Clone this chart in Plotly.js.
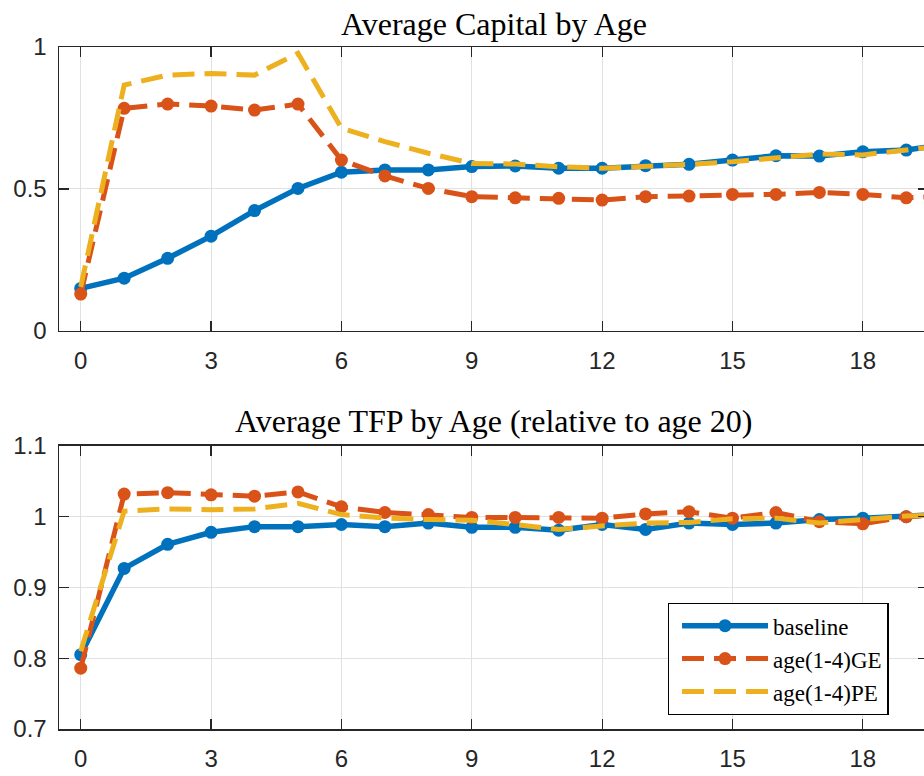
<!DOCTYPE html>
<html>
<head>
<meta charset="utf-8">
<script src="https://cdn.plot.ly/plotly-3.0.1.min.js"></script>
<style>
html, body { margin: 0; padding: 0; overflow: hidden; background: #fff; }
#chart { width: 932px; height: 776px; }
</style>
</head>
<body>
<div id="chart"></div>
<script>
// ---- data ----
const ages = [0,1,2,3,4,5,6,7,8,9,10,11,12,13,14,15,16,17,18,19,20];

const capBaseline = [0.150,0.186,0.256,0.334,0.424,0.502,0.559,0.567,0.567,0.579,0.581,0.573,0.573,0.582,0.587,0.602,0.617,0.616,0.631,0.637,0.660];
const capGE       = [0.130,0.784,0.799,0.792,0.778,0.799,0.602,0.546,0.502,0.473,0.469,0.467,0.461,0.473,0.475,0.481,0.481,0.488,0.481,0.469,0.475];
const capPE       = [0.155,0.866,0.901,0.907,0.901,0.978,0.714,0.667,0.626,0.590,0.588,0.578,0.573,0.578,0.587,0.596,0.608,0.623,0.620,0.637,0.655];

const tfpBaseline = [0.805,0.927,0.961,0.978,0.986,0.986,0.989,0.986,0.991,0.985,0.985,0.981,0.989,0.982,0.991,0.989,0.991,0.996,0.998,1.000,1.004];
const tfpGE       = [0.786,1.032,1.034,1.031,1.029,1.035,1.014,1.006,1.003,0.999,0.999,0.999,0.998,1.004,1.007,0.998,1.006,0.993,0.990,1.000,1.003];
const tfpPE       = [0.810,1.008,1.011,1.010,1.011,1.019,1.003,0.998,0.996,0.995,0.989,0.982,0.987,0.991,0.992,0.997,0.998,0.991,0.996,1.001,1.003];

const seriesNames = ['baseline', 'age(1-4)GE', 'age(1-4)PE'];
const xTicks = [0,3,6,9,12,15,18];
const capTicks = [0, 0.5, 1];
const capTickText = ['0', '0.5', '1'];
const tfpTicks = [0.7, 0.8, 0.9, 1.0, 1.1];
const tfpTickText = ['0.7', '0.8', '0.9', '1', '1.1'];
const titles = ['Average Capital by Age', 'Average TFP by Age (relative to age 20)'];

// ---- styles ----
const BLUE = '#0072BD', ORANGE = '#D95319', YELLOW = '#EDB120';
const DASH = '22px,10px';

function mk(y, xa, ya, idx, show) {
  const base = {x: ages, y: y, xaxis: xa, yaxis: ya, name: seriesNames[idx], showlegend: show, cliponaxis: true};
  if (idx === 0) return Object.assign(base, {mode: 'lines+markers', line: {color: BLUE, width: 5.5}, marker: {color: BLUE, size: 13}});
  if (idx === 1) return Object.assign(base, {mode: 'lines+markers', line: {color: ORANGE, width: 5, dash: DASH}, marker: {color: ORANGE, size: 13}});
  return Object.assign(base, {mode: 'lines', line: {color: YELLOW, width: 5, dash: DASH}});
}

const traces = [
  mk(capBaseline, 'x', 'y', 0, false),
  mk(capGE, 'x', 'y', 1, false),
  mk(capPE, 'x', 'y', 2, false),
  mk(tfpBaseline, 'x2', 'y2', 0, true),
  mk(tfpGE, 'x2', 'y2', 1, true),
  mk(tfpPE, 'x2', 'y2', 2, true)
];

const AXC = '#262626';
const tickFont = {family: 'Liberation Sans, Arial, sans-serif', size: 24, color: AXC};
function xAxis(anchor) {
  return {anchor: anchor, range: [-0.5, 19.5], tickvals: xTicks, ticks: 'inside', ticklen: 10, tickcolor: AXC, tickwidth: 1.2,
    showline: true, linecolor: AXC, linewidth: 1.5, mirror: 'ticks', showgrid: true, gridcolor: '#e1e1e1', gridwidth: 1,
    zeroline: false, tickfont: tickFont, ticklabelstandoff: 8, fixedrange: true};
}
function yAxis(anchor, domain, range, tv, tt) {
  return {anchor: anchor, domain: domain, range: range, tickvals: tv, ticktext: tt, ticks: 'inside', ticklen: 10, tickcolor: AXC, tickwidth: 1.2,
    showline: true, linecolor: AXC, linewidth: 1.5, mirror: 'ticks', showgrid: true, gridcolor: '#e1e1e1', gridwidth: 1,
    zeroline: false, tickfont: tickFont, ticklabelstandoff: 6, fixedrange: true};
}

const titleFont = {family: 'Liberation Serif, Times New Roman, serif', size: 32, color: '#000'};

const layout = {
  width: 932, height: 776,
  margin: {l: 59, r: 4, t: 47, b: 47},
  paper_bgcolor: '#fff', plot_bgcolor: '#fff',
  xaxis: xAxis('y'),
  yaxis: yAxis('x', [0.5836, 1], [0, 1], capTicks, capTickText),
  xaxis2: xAxis('y2'),
  yaxis2: yAxis('x2', [0, 0.415], [0.7, 1.1], tfpTicks, tfpTickText),
  showlegend: true,
  legend: {x: 0.7005, y: 0.1848, xanchor: 'left', yanchor: 'top', xref: 'paper', yref: 'paper',
    bgcolor: '#fff', bordercolor: '#000', borderwidth: 1.3, itemwidth: 86, indentation: 8,
    font: {family: 'Liberation Serif, Times New Roman, serif', size: 23, color: '#000'}, tracegroupgap: 0},
  annotations: [
    {text: titles[0], xref: 'paper', yref: 'paper', x: 0.5, y: 1.034, xanchor: 'center', yanchor: 'middle', showarrow: false, font: titleFont},
    {text: titles[1], xref: 'paper', yref: 'paper', x: 0.5, y: 0.451, xanchor: 'center', yanchor: 'middle', showarrow: false, font: titleFont}
  ]
};

Plotly.newPlot('chart', traces, layout, {displayModeBar: false, staticPlot: true});
</script>
</body>
</html>
